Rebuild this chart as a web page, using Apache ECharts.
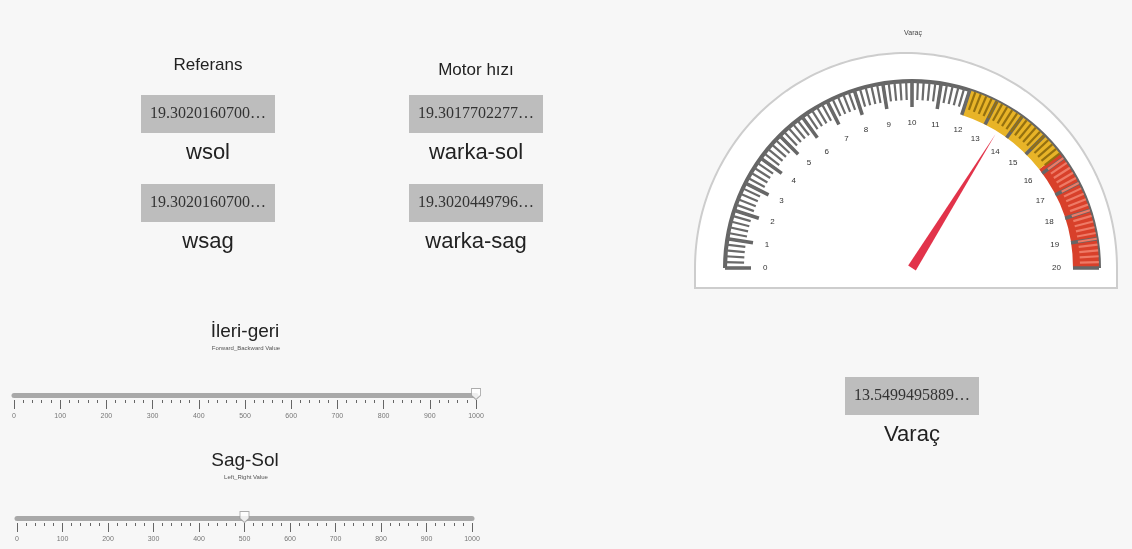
<!DOCTYPE html>
<html>
<head>
<meta charset="utf-8">
<script src="https://cdn.jsdelivr.net/npm/echarts@6/dist/echarts.min.js"></script>
<style>
  html, body { margin: 0; padding: 0; background: #f7f7f7; }
  #chart { width: 1132px; height: 549px; }
</style>
</head>
<body>
<div id="chart"></div>
<script>
const columnTitles = ['Referans', 'Motor hızı']
const readoutNames = ['wsol', 'wsag', 'warka-sol', 'warka-sag']
const readoutValues = ['19.3020160700…', '19.3020160700…', '19.3017702277…', '19.3020449796…']
const gaugeName = 'Varaç'
const gaugeValue = [13.5499495889]
const gaugeReadout = ['13.5499495889…']
const gaugeRange = [0, 20]
const sliderTitles = ['İleri-geri', 'Sag-Sol']
const sliderSubtitles = ['Forward_Backward Value', 'Left_Right Value']
const sliderValues = [1000, 500]
const sliderRange = [0, 1000]

// layout
const colX = [208, 476]
const boxY = [114, 203]
const labelY = [153, 242]
const gCenter = [912, 268]
const gRadius = 187
const panel = { cx: 906, cy: 268, rx: 211, ry: 215, bottom: 288 }
const sliderGrids = [
  { left: 14, width: 462, top: 385, height: 10 },
  { left: 17, width: 455, top: 508, height: 10 }
]
const sliderTitleY = [332, 461]

const sans = 'Liberation Sans, Arial, sans-serif'
const serif = 'Liberation Serif, Times New Roman, serif'

const chart = echarts.init(document.getElementById('chart'))

const graphics = []

// gauge panel (half ellipse + skirt)
const panelPts = [[panel.cx - panel.rx, panel.bottom]]
for (let k = 0; k <= 120; k++) {
  const a = Math.PI - (Math.PI * k) / 120
  panelPts.push([panel.cx + panel.rx * Math.cos(a), panel.cy - panel.ry * Math.sin(a)])
}
panelPts.push([panel.cx + panel.rx, panel.bottom])
graphics.push({
  type: 'polygon', z: -10,
  shape: { points: panelPts },
  style: { fill: '#fff', stroke: '#cdcdcd', lineWidth: 2 }
})
graphics.push({
  type: 'text',
  style: { text: gaugeName, x: 913, y: 33, align: 'center', verticalAlign: 'middle', font: '7px ' + sans, fill: '#444' }
})

// readout boxes
const readoutBox = (cx, cy, value, name, nameY) => {
  graphics.push({
    type: 'rect',
    shape: { x: cx - 67, y: cy - 19, width: 134, height: 38 },
    style: { fill: '#bdbdbd' }
  })
  graphics.push({
    type: 'text',
    style: { text: value, x: cx, y: cy, align: 'center', verticalAlign: 'middle', font: '16px ' + serif, fill: '#333' }
  })
  graphics.push({
    type: 'text',
    style: { text: name, x: cx, y: nameY, align: 'center', verticalAlign: 'middle', font: '22px ' + sans, fill: '#222' }
  })
}

columnTitles.forEach((t, c) => {
  graphics.push({
    type: 'text',
    style: { text: t, x: colX[c], y: c === 0 ? 65 : 70, align: 'center', verticalAlign: 'middle', font: '17px ' + sans, fill: '#222' }
  })
  for (let r = 0; r < 2; r++) {
    const i = c * 2 + r
    readoutBox(colX[c], boxY[r], readoutValues[i], readoutNames[i], labelY[r])
  }
})
readoutBox(912, 396, gaugeReadout[0], gaugeName, 435)

// slider titles
sliderTitles.forEach((t, i) => {
  graphics.push({
    type: 'text',
    style: { text: t, x: 245, y: sliderTitleY[i], align: 'center', verticalAlign: 'middle', font: '19px ' + sans, fill: '#222' }
  })
  graphics.push({
    type: 'text',
    style: { text: sliderSubtitles[i], x: 246, y: sliderTitleY[i] + 16, align: 'center', verticalAlign: 'middle', font: '6px ' + sans, fill: '#555' }
  })
})

// slider axes
const xAxes = []
const yAxes = []
const handleSeries = []
sliderGrids.forEach((g, i) => {
  xAxes.push({
    gridIndex: i, type: 'value', min: sliderRange[0], max: sliderRange[1], position: 'bottom',
    axisLine: { lineStyle: { color: '#a9a9a9', width: 5 } },
    axisTick: { show: false }, axisLabel: { show: false }, splitLine: { show: false }
  })
  xAxes.push({
    gridIndex: i, type: 'value', min: sliderRange[0], max: sliderRange[1], interval: 100, position: 'bottom', offset: 5,
    axisLine: { show: false },
    axisTick: { length: 9, lineStyle: { color: '#666', width: 1 } },
    minorTick: { show: true, splitNumber: 5, length: 3, lineStyle: { color: '#666', width: 1 } },
    axisLabel: { fontSize: 7, color: '#777', margin: 13, fontFamily: sans, formatter: v => String(v) },
    splitLine: { show: false }, minorSplitLine: { show: false }
  })
  yAxes.push({ gridIndex: i, type: 'value', min: 0, max: 1, show: false })
  handleSeries.push({
    type: 'scatter',
    xAxisIndex: i * 2,
    yAxisIndex: i,
    data: [[sliderValues[i], 0]],
    symbol: 'path://M0,0 L10,0 L10,7 L5,11 L0,7 Z',
    symbolSize: [9, 11],
    symbolOffset: [0, -1],
    itemStyle: { color: '#fff', borderColor: '#999', borderWidth: 1 },
    z: 10,
    silent: true
  })
})

chart.setOption({
  animation: false,
  backgroundColor: '#f7f7f7',
  graphic: graphics,
  grid: sliderGrids,
  xAxis: xAxes,
  yAxis: yAxes,
  series: [
    // outer rim
    {
      type: 'gauge', center: gCenter, radius: gRadius + 2,
      startAngle: 180, endAngle: 0, min: gaugeRange[0], max: gaugeRange[1],
      axisLine: { lineStyle: { width: 4, color: [[1, '#666']] } },
      axisTick: { show: false }, splitLine: { show: false }, axisLabel: { show: false },
      pointer: { show: false }, detail: { show: false }, title: { show: false }
    },
    // coloured band
    {
      type: 'gauge', center: gCenter, radius: gRadius,
      startAngle: 180, endAngle: 0, min: gaugeRange[0], max: gaugeRange[1],
      axisLine: { lineStyle: { width: 26, color: [[0.6, 'rgba(0,0,0,0)'], [0.79, '#e8b428'], [1, '#d8402a']] } },
      axisTick: { show: false }, splitLine: { show: false }, axisLabel: { show: false },
      pointer: { show: false }, detail: { show: false }, title: { show: false }
    },
    // ticks, labels, needle
    {
      type: 'gauge', center: gCenter, radius: gRadius,
      startAngle: 180, endAngle: 0, min: gaugeRange[0], max: gaugeRange[1], splitNumber: 20,
      axisLine: { show: false, lineStyle: { width: 0, color: [[0.6, '#6a6a6a'], [0.79, '#94700f'], [1, '#ee7a66']] } },
      splitLine: { length: 26, distance: 0, lineStyle: { width: 3.5, color: '#666' } },
      axisTick: { splitNumber: 5, length: 19, distance: 0, lineStyle: { width: 2.2, color: 'auto' } },
      axisLabel: { distance: 12, fontSize: 8, color: '#333', fontFamily: sans },
      pointer: { icon: 'triangle', width: 9, length: 158, offsetCenter: [0, 0], itemStyle: { color: '#e2334a' } },
      anchor: { show: false },
      detail: { show: false }, title: { show: false },
      data: [{ value: gaugeValue[0], name: gaugeName }]
    },
    ...handleSeries
  ]
})

window.addEventListener('resize', () => {
  chart.resize()
})
</script>
</body>
</html>
